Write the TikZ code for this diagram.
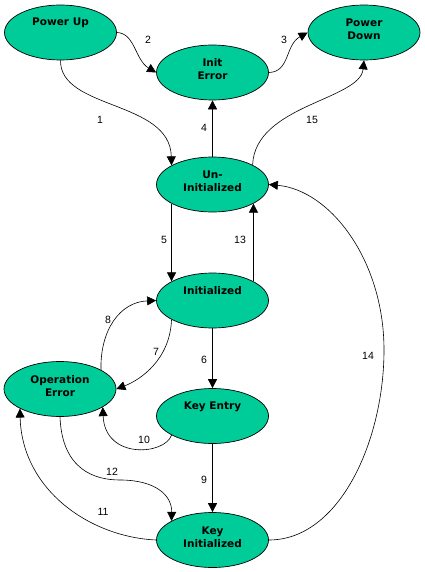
\documentclass[tikz,border=0pt]{standalone}
\usepackage{fontspec}
\setmainfont{Liberation Sans}
\newfontfamily\statefont{DejaVu Sans}
\usetikzlibrary{shapes.geometric,arrows.meta,calc}
\definecolor{stategreen}{RGB}{0,204,153}
\begin{document}
\begin{tikzpicture}[x=1pt,y=-1pt,
  state/.style={ellipse,draw=black,line width=0.7pt,fill=stategreen,minimum width=112pt,minimum height=55pt,inner sep=0pt},
  stxt/.style={font=\statefont\bfseries\fontsize{10.5}{13}\selectfont,align=center,inner sep=0pt},
  edge/.style={line width=0.6pt,-{Triangle[length=9pt,width=9pt]}},
  lbl/.style={font=\fontsize{10.5}{12}\selectfont,inner sep=0pt}]
\useasboundingbox (0,0) rectangle (424,572);
% states
\node[state] (pu) at (60.5,32.5) {};
\node[state] (ie) at (212.5,72.5) {};
\node[state] (pd) at (364,32.5) {};
\node[state] (ui) at (212.5,184.5) {};
\node[state] (it) at (212.5,300.5) {};
\node[state] (oe) at (60,389) {};
\node[state] (ke) at (212.5,416) {};
\node[state] (ki) at (212.5,540) {};
% state texts
\node[stxt] (tpu) at ($(pu.center)+(0,-9.5)$) {Power Up};
\node[stxt] (tie) at ($(ie.center)+(0,-3)$) {Init\\Error};
\node[stxt] (tpd) at ($(pd.center)+(0,-3)$) {Power\\Down};
\node[stxt] (tui) at ($(ui.center)+(0,-3)$) {Un-\\Initialized};
\node[stxt] (tit) at ($(it.center)+(0,-9.5)$) {Initialized};
\node[stxt] (toe) at ($(oe.center)+(0,-3)$) {Operation\\Error};
\node[stxt] (tke) at ($(ke.center)+(0,-9.5)$) {Key Entry};
\node[stxt] (tki) at ($(ki.center)+(0,-3)$) {Key\\Initialized};
% connectors
\draw[edge] (pu.south) .. controls (60,110) and (170,100) .. (ui.155);
\draw[edge] (pu.east) .. controls (135,33) and (135,60) .. (ie.west);
\draw[edge] (ie.east) .. controls (290,72) and (285,45) .. (pd.west);
\draw[edge] (ui.north) -- (ie.south);
\draw[edge] (ui.-155) -- (it.155);
\draw[edge] (it.25) -- (ui.-25);
\draw[edge] (ui.26) .. controls (255,105) and (360,100) .. (pd.south);
\draw[edge] (it.-155) .. controls (170,360) and (140,380) .. (oe.east);
\draw[edge] (oe.25) .. controls (100,330) and (120,302) .. (it.west);
\draw[edge] (it.south) -- (ke.north);
\draw[edge] (ke.south) -- (ki.north);
\draw[edge] (ke.-155) .. controls (165,455) and (105,460) .. (oe.-23);
\draw[edge] (oe.south) .. controls (62,470) and (95,480) .. (120,480) .. controls (155,480) and (172,495) .. (ki.155);
\draw[edge] (ki.west) .. controls (90,537) and (22,490) .. (oe.-154);
\draw[edge] (ki.east) .. controls (340,540) and (384,440) .. (384,350) .. controls (384,260) and (330,190) .. (ui.east);
% labels
\node[lbl] (l1) at (100,120) {1};
\node[lbl] (l2) at (148,40) {2};
\node[lbl] (l3) at (284,40) {3};
\node[lbl] (l4) at (204,128) {4};
\node[lbl] (l15) at (312,120) {15};
\node[lbl] (l5) at (164,240) {5};
\node[lbl] (l13) at (240,240) {13};
\node[lbl] (l8) at (108,320) {8};
\node[lbl] (l7) at (156,352) {7};
\node[lbl] (l6) at (204,360) {6};
\node[lbl] (l14) at (368,356) {14};
\node[lbl] (l10) at (144,440) {10};
\node[lbl] (l12) at (112,472) {12};
\node[lbl] (l9) at (204,480) {9};
\node[lbl] (l11) at (103,512) {11};
\end{tikzpicture}
\end{document}
